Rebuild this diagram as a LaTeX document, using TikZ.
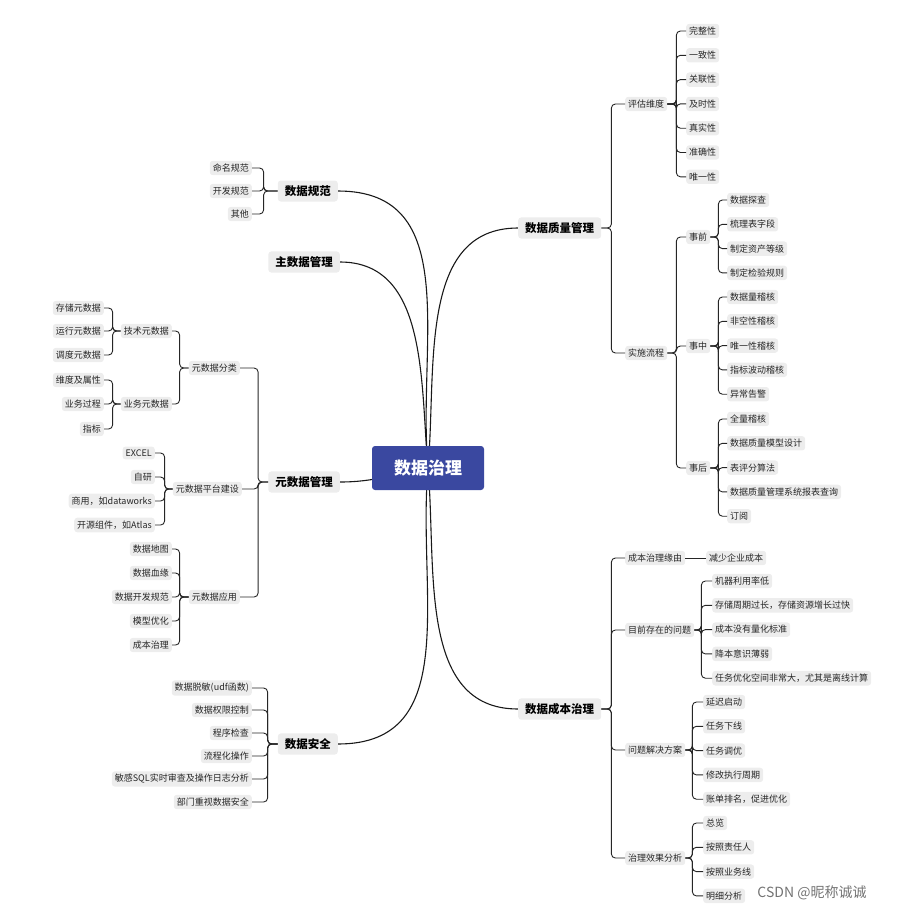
\documentclass[tikz,border=0pt]{standalone}
\usepackage{fontspec}
\setmainfont{Noto Sans CJK SC}
\pgfdeclarelayer{bg}\pgfsetlayers{bg,main}
\begin{document}
\begin{tikzpicture}[x=1pt,y=-1pt,
 lf/.style={fill=black!7,rounded corners=3pt,inner xsep=3pt,inner ysep=3pt,font=\fontsize{9}{10}\selectfont,text=black!85},
 mn/.style={fill=black!7,rounded corners=3pt,inner xsep=7pt,inner ysep=5pt,font=\fontsize{11.5}{13}\selectfont\bfseries},
 br/.style={draw=black!85,line width=0.9pt,rounded corners=4pt},
 cv/.style={draw=black!90,line width=1.1pt}]
\useasboundingbox (0,0) rectangle (900,913);
\node[fill={rgb,255:red,58;green,72;blue,160},rounded corners=3pt,minimum width=112pt,minimum height=44pt,text=white,font=\fontsize{17}{19}\selectfont\bfseries] (c) at (428,468) {数据治理};
\node[mn,anchor=east] (gf) at (338,191) {数据规范};
\node[mn,anchor=east] (zsj) at (340,262) {主数据管理};
\node[mn,anchor=east] (ysj) at (340,482) {元数据管理};
\node[mn,anchor=east] (aq) at (338,744) {数据安全};
\node[mn,anchor=west] (zl) at (518,228) {数据质量管理};
\node[mn,anchor=west] (cb) at (518,709) {数据成本治理};
\begin{pgfonlayer}{bg}
\draw[cv] (c.center) to[out=95,in=0,looseness=1.1] (gf.east);
\draw[cv] (c.center) to[out=95,in=0,looseness=1] (zsj.east);
\draw[cv] (c.center) to[out=190,in=0] (ysj.east);
\draw[cv] (c.center) to[out=265,in=0,looseness=1.1] (aq.east);
\draw[cv] (c.center) to[out=85,in=180] (zl.west);
\draw[cv] (c.center) to[out=275,in=180] (cb.west);
\end{pgfonlayer}
\node[lf,anchor=east] (g1) at (252,168) {命名规范};
\node[lf,anchor=east] (g2) at (252,191) {开发规范};
\node[lf,anchor=east] (g3) at (252,214) {其他};
\foreach \n in {g1,g2,g3} \draw[br] (gf.west) -- ++(-14,0) |- (\n.east);
\node[lf,anchor=east] (a1) at (252,688) {数据脱敏(udf函数)};
\node[lf,anchor=east] (a2) at (252,710) {数据权限控制};
\node[lf,anchor=east] (a3) at (252,733) {程序检查};
\node[lf,anchor=east] (a4) at (252,756) {流程化操作};
\node[lf,anchor=east] (a5) at (252,779) {敏感SQL实时审查及操作日志分析};
\node[lf,anchor=east] (a6) at (252,802) {部门重视数据安全};
\foreach \n in {a1,a2,a3,a4,a5,a6} \draw[br] (aq.west) -- ++(-10,0) |- (\n.east);
\node[lf,anchor=east] (y1) at (240,368) {元数据分类};
\node[lf,anchor=east] (y2) at (242,489) {元数据平台建设};
\node[lf,anchor=east] (y3) at (240,597) {元数据应用};
\foreach \n in {y1,y2,y3} \draw[br] (ysj.west) -- ++(-10,0) |- (\n.east);
\node[lf,anchor=east] (y11) at (172,331) {技术元数据};
\node[lf,anchor=east] (y12) at (172,404) {业务元数据};
\foreach \n in {y11,y12} \draw[br] (y1.west) -- ++(-9,0) |- (\n.east);
\node[lf,anchor=east] (t1) at (104,308) {存储元数据};
\node[lf,anchor=east] (t2) at (104,331) {运行元数据};
\node[lf,anchor=east] (t3) at (104,355) {调度元数据};
\foreach \n in {t1,t2,t3} \draw[br] (y11.west) -- ++(-8,0) |- (\n.east);
\node[lf,anchor=east] (b1) at (104,380) {维度及属性};
\node[lf,anchor=east] (b2) at (104,404) {业务过程};
\node[lf,anchor=east] (b3) at (104,429) {指标};
\foreach \n in {b1,b2,b3} \draw[br] (y12.west) -- ++(-8,0) |- (\n.east);
\node[lf,anchor=east] (p1) at (155,453) {EXCEL};
\node[lf,anchor=east] (p2) at (155,477) {自研};
\node[lf,anchor=east] (p3) at (155,501) {商用，如dataworks};
\node[lf,anchor=east] (p4) at (155,525) {开源组件，如Atlas};
\foreach \n in {p1,p2,p3,p4} \draw[br] (y2.west) -- ++(-8,0) |- (\n.east);
\node[lf,anchor=east] (u1) at (172,549) {数据地图};
\node[lf,anchor=east] (u2) at (172,573) {数据血缘};
\node[lf,anchor=east] (u3) at (172,597) {数据开发规范};
\node[lf,anchor=east] (u4) at (172,621) {模型优化};
\node[lf,anchor=east] (u5) at (172,645) {成本治理};
\foreach \n in {u1,u2,u3,u4,u5} \draw[br] (y3.west) -- ++(-9,0) |- (\n.east);
\node[lf,anchor=west] (q1) at (625,104) {评估维度};
\node[lf,anchor=west] (q2) at (625,353) {实施流程};
\foreach \n in {q1,q2} \draw[br] (zl.east) -- ++(10,0) |- (\n.west);
\foreach \t [count=\i] in {完整性,一致性,关联性,及时性,真实性,准确性,唯一性}
 \node[lf,anchor=west] (d\i) at (686,{31+24.3*(\i-1)}) {\t};
\foreach \i in {1,...,7} \draw[br] (q1.east) -- ++(9,0) |- (d\i.west);
\node[lf,anchor=west] (s1) at (686,237) {事前};
\node[lf,anchor=west] (s2) at (686,346) {事中};
\node[lf,anchor=west] (s3) at (686,468) {事后};
\foreach \n in {s1,s2,s3} \draw[br] (q2.east) -- ++(9,0) |- (\n.west);
\foreach \t [count=\i] in {数据探查,梳理表字段,制定资产等级,制定检验规则}
 \node[lf,anchor=west] (e\i) at (727,{200+24.3*(\i-1)}) {\t};
\foreach \i in {1,...,4} \draw[br] (s1.east) -- ++(8,0) |- (e\i.west);
\foreach \t [count=\i] in {数据量稽核,非空性稽核,唯一性稽核,指标波动稽核,异常告警}
 \node[lf,anchor=west] (f\i) at (727,{297+24.3*(\i-1)}) {\t};
\foreach \i in {1,...,5} \draw[br] (s2.east) -- ++(8,0) |- (f\i.west);
\foreach \t [count=\i] in {全量稽核,数据质量模型设计,表评分算法,数据质量管理系统报表查询,订阅}
 \node[lf,anchor=west] (h\i) at (727,{419+24.3*(\i-1)}) {\t};
\foreach \i in {1,...,5} \draw[br] (s3.east) -- ++(8,0) |- (h\i.west);
\node[lf,anchor=west] (k1) at (625,558) {成本治理缘由};
\node[lf,anchor=west] (k2) at (625,630) {目前存在的问题};
\node[lf,anchor=west] (k3) at (625,750) {问题解决方案};
\node[lf,anchor=west] (k4) at (625,858) {治理效果分析};
\foreach \n in {k1,k2,k3,k4} \draw[br] (cb.east) -- ++(10,0) |- (\n.west);
\node[lf,anchor=west] (r1) at (706,558) {减少企业成本};
\draw[br] (k1.east) -- (r1.west);
\foreach \t [count=\i] in {机器利用率低,{存储周期过长，存储资源增长过快},成本没有量化标准,降本意识薄弱,{任务优化空间非常大，尤其是离线计算}}
 \node[lf,anchor=west] (m\i) at (712,{581+24.3*(\i-1)}) {\t};
\foreach \i in {1,...,5} \draw[br] (k2.east) -- ++(7,0) |- (m\i.west);
\foreach \t [count=\i] in {延迟启动,任务下线,任务调优,修改执行周期,{账单排名，促进优化}}
 \node[lf,anchor=west] (n\i) at (703,{702+24.3*(\i-1)}) {\t};
\foreach \i in {1,...,5} \draw[br] (k3.east) -- ++(7,0) |- (n\i.west);
\foreach \t [count=\i] in {总览,按照责任人,按照业务线,明细分析}
 \node[lf,anchor=west] (v\i) at (703,{823+24.3*(\i-1)}) {\t};
\foreach \i in {1,...,4} \draw[br] (k4.east) -- ++(7,0) |- (v\i.west);
\node[text=black!55,font=\fontsize{14}{15}\selectfont] (wm) at (812,893) {CSDN @昵称诚诚};
\end{tikzpicture}
\end{document}
